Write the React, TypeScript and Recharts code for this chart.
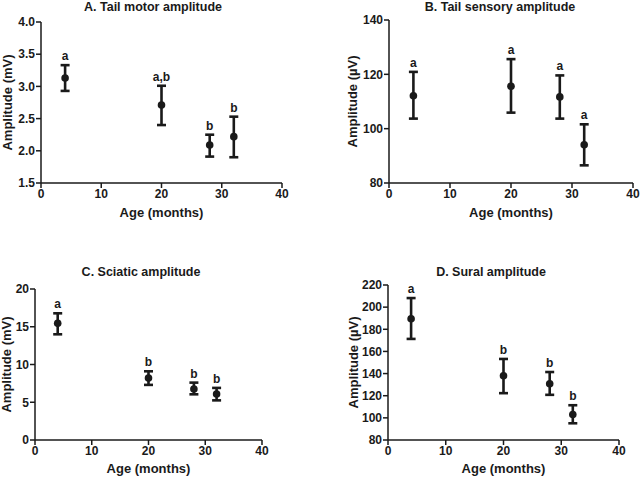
import { ScatterChart, Scatter, XAxis, YAxis, ErrorBar, Label } from 'recharts';

// x positions (months) shared by every panel
const ages = [4, 20, 28, 32];
const ageTicks = [0, 10, 20, 30, 40];

// A. Tail motor amplitude (mV)
const motorMean = [3.13, 2.71, 2.09, 2.22];
const motorLow = [2.93, 2.40, 1.91, 1.90];
const motorHigh = [3.33, 3.01, 2.25, 2.53];
const motorTags = ['a', 'a,b', 'b', 'b'];
const motorTicks = [1.5, 2.0, 2.5, 3.0, 3.5, 4.0];

// B. Tail sensory amplitude (µV)
const sensoryMean = [112.1, 115.6, 111.7, 94.1];
const sensoryLow = [103.7, 105.9, 103.7, 86.5];
const sensoryHigh = [120.9, 125.6, 119.6, 101.6];
const sensoryTags = ['a', 'a', 'a', 'a'];
const sensoryTicks = [80, 100, 120, 140];

// C. Sciatic amplitude (mV)
const sciaticMean = [15.45, 8.2, 6.75, 6.1];
const sciaticLow = [14.0, 7.3, 6.05, 5.25];
const sciaticHigh = [16.78, 9.1, 7.6, 6.9];
const sciaticTags = ['a', 'b', 'b', 'b'];
const sciaticTicks = [0, 5, 10, 15, 20];

// D. Sural amplitude (µV)
const suralMean = [189.5, 138.1, 130.8, 103.0];
const suralLow = [171.3, 122.3, 120.8, 95.1];
const suralHigh = [208.2, 153.2, 141.4, 111.4];
const suralTags = ['a', 'b', 'b', 'b'];
const suralTicks = [80, 100, 120, 140, 160, 180, 200, 220];

const INK = '#1a1a1a';
const FONT = "'Liberation Sans', Arial, sans-serif";

type PanelProps = {
  left: number;
  top: number;
  width: number;
  height: number;
  yWidth: number;
  margin: { top: number; right: number; bottom: number; left: number };
  xHeight: number;
  xLabelOffset: number;
  yLabelOffset: number;
  yLabel: string;
  mean: number[];
  low: number[];
  high: number[];
  tags: string[];
  yTicks: number[];
  decimals: number;
};

function Panel(p: PanelProps) {
  const points = ages.map((x, i) => ({
    x,
    y: p.mean[i],
    err: [p.mean[i] - p.low[i], p.high[i] - p.mean[i]],
  }));
  const tagPoints = ages.map((x, i) => ({ x, y: p.high[i], tag: p.tags[i] }));
  const tick = { fontSize: 12, fontWeight: 700, fill: INK, fontFamily: FONT };
  const axisLine = { stroke: INK, strokeWidth: 1.5 };

  return (
    <div style={{ position: 'absolute', left: p.left, top: p.top }}>
      <ScatterChart width={p.width} height={p.height} margin={p.margin}>
        <XAxis
          type="number"
          dataKey="x"
          domain={[0, 40]}
          ticks={ageTicks}
          tick={tick}
          tickSize={5}
          tickMargin={1}
          axisLine={axisLine}
          tickLine={axisLine}
          height={p.xHeight}
          allowDataOverflow
        >
          <Label
            value="Age (months)"
            position="insideBottom"
            offset={p.xLabelOffset}
            style={{ fontSize: 13, fontWeight: 700, fill: INK, fontFamily: FONT }}
          />
        </XAxis>
        <YAxis
          type="number"
          dataKey="y"
          domain={[p.yTicks[0], p.yTicks[p.yTicks.length - 1]]}
          ticks={p.yTicks}
          tickFormatter={(v: number) => v.toFixed(p.decimals)}
          tick={tick}
          tickSize={5}
          tickMargin={1}
          axisLine={axisLine}
          tickLine={axisLine}
          width={p.yWidth}
          allowDataOverflow
        >
          <Label
            value={p.yLabel}
            angle={-90}
            position="insideLeft"
            offset={p.yLabelOffset}
            style={{ textAnchor: 'middle', fontSize: 13, fontWeight: 700, fill: INK, fontFamily: FONT }}
          />
        </YAxis>
        <Scatter
          data={points}
          isAnimationActive={false}
          shape={(s: any) => <circle cx={s.cx} cy={s.cy} r={3.8} fill={INK} />}
        >
          <ErrorBar dataKey="err" direction="y" width={4.5} stroke={INK} strokeWidth={2.6} />
        </Scatter>
        <Scatter
          data={tagPoints}
          isAnimationActive={false}
          shape={(s: any) => (
            <text
              x={s.cx}
              y={s.cy - 5}
              textAnchor="middle"
              fontSize={12}
              fontWeight={700}
              fill={INK}
              fontFamily={FONT}
            >
              {s.payload.tag}
            </text>
          )}
        />
      </ScatterChart>
    </div>
  );
}

const titleStyle = { fontSize: 12.5, fontWeight: 700, fill: INK, fontFamily: FONT } as const;

export default function App() {
  return (
    <div style={{ position: 'absolute', left: 0, top: 0, width: 640, height: 477, background: '#fff', overflow: 'hidden' }}>
      <Panel
        left={0} top={0} width={320} height={237}
        yWidth={41} margin={{ top: 22, right: 38, bottom: 0, left: 0 }}
        xHeight={54} xLabelOffset={20} yLabelOffset={7}
        yLabel="Amplitude (mV)"
        mean={motorMean} low={motorLow} high={motorHigh} tags={motorTags}
        yTicks={motorTicks} decimals={1}
      />
      <Panel
        left={320} top={0} width={320} height={237}
        yWidth={69} margin={{ top: 20, right: 7, bottom: 0, left: 0 }}
        xHeight={54} xLabelOffset={20} yLabelOffset={32}
        yLabel="Amplitude (µV)"
        mean={sensoryMean} low={sensoryLow} high={sensoryHigh} tags={sensoryTags}
        yTicks={sensoryTicks} decimals={0}
      />
      <Panel
        left={0} top={237} width={320} height={240}
        yWidth={35} margin={{ top: 52, right: 58, bottom: 0, left: 0 }}
        xHeight={37} xLabelOffset={4} yLabelOffset={6}
        yLabel="Amplitude (mV)"
        mean={sciaticMean} low={sciaticLow} high={sciaticHigh} tags={sciaticTags}
        yTicks={sciaticTicks} decimals={0}
      />
      <Panel
        left={320} top={237} width={320} height={240}
        yWidth={68} margin={{ top: 48, right: 21, bottom: 0, left: 0 }}
        xHeight={37} xLabelOffset={4} yLabelOffset={33}
        yLabel="Amplitude (µV)"
        mean={suralMean} low={suralLow} high={suralHigh} tags={suralTags}
        yTicks={suralTicks} decimals={0}
      />
      <svg width={640} height={477} style={{ position: 'absolute', left: 0, top: 0, pointerEvents: 'none' }}>
        <text x={153} y={11} textAnchor="middle" {...titleStyle}>A. Tail motor amplitude</text>
        <text x={500} y={11} textAnchor="middle" {...titleStyle}>B. Tail sensory amplitude</text>
        <text x={141} y={276} textAnchor="middle" {...titleStyle}>C. Sciatic amplitude</text>
        <text x={491} y={276} textAnchor="middle" {...titleStyle}>D. Sural amplitude</text>
      </svg>
    </div>
  );
}
